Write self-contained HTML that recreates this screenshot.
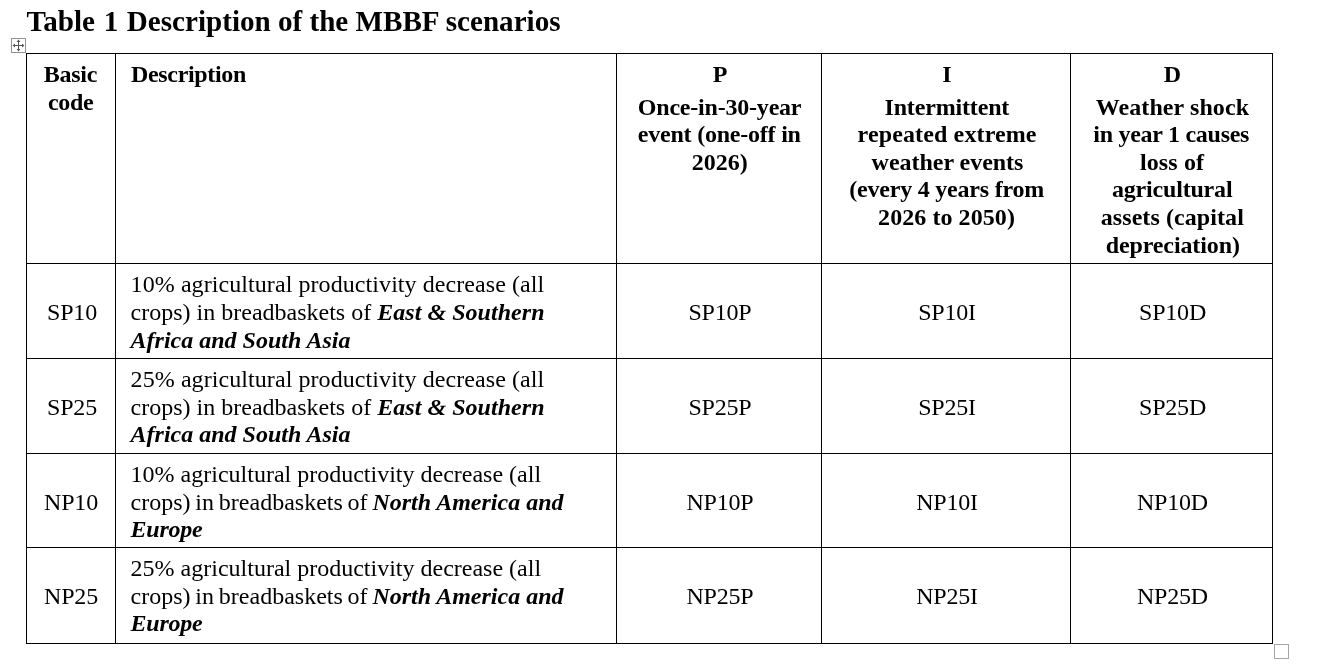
<!DOCTYPE html>
<html lang="en"><head><meta charset="utf-8"><title>Table 1 Description of the MBBF scenarios</title><style>
html,body{margin:0;padding:0;background:#fff;}
body{width:1326px;height:672px;position:relative;overflow:hidden;font-family:"Liberation Serif","Times New Roman",serif;color:#000;}
h1{position:absolute;margin:0;white-space:nowrap;font-weight:bold;font-size:29.1px;line-height:34px;left:26.5px;top:4px;}
table{position:absolute;left:26px;top:53px;width:1247px;table-layout:fixed;border-collapse:separate;border-spacing:0;border-top:1px solid #000;border-left:1px solid #000;font-size:24px;line-height:28px;}
th,td{position:relative;box-sizing:border-box;padding:0;border-right:1px solid #000;border-bottom:1px solid #000;font-weight:normal;text-align:left;vertical-align:top;overflow:visible;}
.l{position:absolute;display:block;white-space:nowrap;height:28px;}
.c{text-align:center;left:0;width:100%;}
.b{font-weight:bold;}
.bi{font-weight:bold;font-style:italic;}
.box{position:absolute;box-sizing:border-box;width:15px;height:15px;background:#fff;}
</style></head><body>
<h1><span style="word-spacing:1.4px">Table 1 </span>Description of the MBBF scenarios</h1>
<div class="box" style="left:11px;top:38px;border:1px solid #929292"><svg width="13" height="13" viewBox="0 0 13 13" style="position:absolute;left:0;top:0"><path d="M6.5 1.5V11.5M1.5 6.5H11.5" stroke="#555" stroke-width="1" fill="none"/><path d="M6.5 0.6L4.6 3H8.4ZM6.5 12.4L4.6 10H8.4ZM0.6 6.5L3 4.6V8.4ZM12.4 6.5L10 4.6V8.4Z" fill="#555"/></svg></div>
<table><colgroup><col style="width:89px"><col style="width:501px"><col style="width:205px"><col style="width:249px"><col style="width:202px"></colgroup>
<thead><tr style="height:210px">
<th style="height:210px"><span class="l b" style="top:6px;left:16.7px;letter-spacing:-0.225px;">Basic</span><span class="l b" style="top:34px;left:21px;letter-spacing:-0.367px;">code</span></th>
<th style="height:210px"><span class="l b" style="top:6px;left:15px;letter-spacing:-0.33px;">Description</span></th>
<th style="height:210px"><span class="l b c" style="top:6px;left:1px;">P</span><span class="l b" style="top:39px;left:20.8px;letter-spacing:-0.207px;">Once-in-30-year</span><span class="l b" style="top:66px;left:20.8px;letter-spacing:-0.219px;">event (one-off in</span><span class="l b" style="top:94px;left:74.8px;">2026)</span></th>
<th style="height:210px"><span class="l b c" style="top:6px;left:1px;">I</span><span class="l b" style="top:39px;left:62.5px;letter-spacing:-0.164px;">Intermittent</span><span class="l b" style="top:66px;left:35.6px;letter-spacing:0.127px;">repeated extreme</span><span class="l b" style="top:94px;left:49.6px;letter-spacing:-0.031px;">weather events</span><span class="l b" style="top:121px;left:27.3px;letter-spacing:-0.217px;">(every 4 years from</span><span class="l b" style="top:149px;left:56.1px;letter-spacing:0.067px;">2026 to 2050)</span></th>
<th style="height:210px"><span class="l b c" style="top:6px;left:1px;">D</span><span class="l b" style="top:39px;left:24.7px;letter-spacing:0.092px;">Weather shock</span><span class="l b" style="top:66px;left:22.3px;letter-spacing:-0.273px;">in year 1 causes</span><span class="l b" style="top:94px;left:68.9px;letter-spacing:0.133px;">loss of</span><span class="l b" style="top:121px;left:41px;letter-spacing:-0.191px;">agricultural</span><span class="l b" style="top:149px;left:29.7px;letter-spacing:0.086px;">assets (capital</span><span class="l b" style="top:177px;left:34.7px;letter-spacing:-0.108px;">depreciation)</span></th>
</tr></thead>
<tbody><tr style="height:95px">
<td style="height:95px"><span class="l c" style="top:34px;left:1px;letter-spacing:-0.2px;">SP10</span></td>
<td style="height:95px"><span class="l" style="top:6px;left:14.6px;letter-spacing:0.075px;">10% agricultural productivity decrease (all</span><span class="l" style="top:34px;left:14.6px;">crops) in breadbaskets of <i class="bi" style="letter-spacing:0.04px">East &amp; Southern</i></span><span class="l bi" style="top:62px;left:14.6px;">Africa and South Asia</span></td>
<td style="height:95px"><span class="l c" style="top:34px;left:1px;letter-spacing:-0.2px;">SP10P</span></td>
<td style="height:95px"><span class="l c" style="top:34px;left:1px;letter-spacing:-0.2px;">SP10I</span></td>
<td style="height:95px"><span class="l c" style="top:34px;left:1px;letter-spacing:-0.2px;">SP10D</span></td>
</tr>
<tr style="height:95px">
<td style="height:95px"><span class="l c" style="top:34px;left:1px;letter-spacing:-0.2px;">SP25</span></td>
<td style="height:95px"><span class="l" style="top:6px;left:14.6px;letter-spacing:0.075px;">25% agricultural productivity decrease (all</span><span class="l" style="top:34px;left:14.6px;">crops) in breadbaskets of <i class="bi" style="letter-spacing:0.04px">East &amp; Southern</i></span><span class="l bi" style="top:61px;left:14.6px;">Africa and South Asia</span></td>
<td style="height:95px"><span class="l c" style="top:34px;left:1px;letter-spacing:-0.2px;">SP25P</span></td>
<td style="height:95px"><span class="l c" style="top:34px;left:1px;letter-spacing:-0.2px;">SP25I</span></td>
<td style="height:95px"><span class="l c" style="top:34px;left:1px;letter-spacing:-0.2px;">SP25D</span></td>
</tr>
<tr style="height:94px">
<td style="height:94px"><span class="l c" style="top:34px;letter-spacing:-0.2px;">NP10</span></td>
<td style="height:94px"><span class="l" style="top:6px;left:14.6px;">10% agricultural productivity decrease (all</span><span class="l" style="top:34px;left:14.6px;"><span style="word-spacing:-1.2px">crops) in breadbaskets of </span><i class="bi">North America and</i></span><span class="l bi" style="top:61px;left:14.6px;letter-spacing:-0.25px;">Europe</span></td>
<td style="height:94px"><span class="l c" style="top:34px;left:1px;letter-spacing:-0.2px;">NP10P</span></td>
<td style="height:94px"><span class="l c" style="top:34px;left:1px;letter-spacing:-0.2px;">NP10I</span></td>
<td style="height:94px"><span class="l c" style="top:34px;left:1px;letter-spacing:-0.2px;">NP10D</span></td>
</tr>
<tr style="height:96px">
<td style="height:96px"><span class="l c" style="top:34px;letter-spacing:-0.2px;">NP25</span></td>
<td style="height:96px"><span class="l" style="top:6px;left:14.6px;">25% agricultural productivity decrease (all</span><span class="l" style="top:34px;left:14.6px;"><span style="word-spacing:-1.2px">crops) in breadbaskets of </span><i class="bi">North America and</i></span><span class="l bi" style="top:61px;left:14.6px;letter-spacing:-0.25px;">Europe</span></td>
<td style="height:96px"><span class="l c" style="top:34px;left:1px;letter-spacing:-0.2px;">NP25P</span></td>
<td style="height:96px"><span class="l c" style="top:34px;left:1px;letter-spacing:-0.2px;">NP25I</span></td>
<td style="height:96px"><span class="l c" style="top:34px;left:1px;letter-spacing:-0.2px;">NP25D</span></td>
</tr></tbody>
</table>
<div class="box" style="left:1274px;top:644px;border:1px solid #a6a6a6"></div>
</body></html>
